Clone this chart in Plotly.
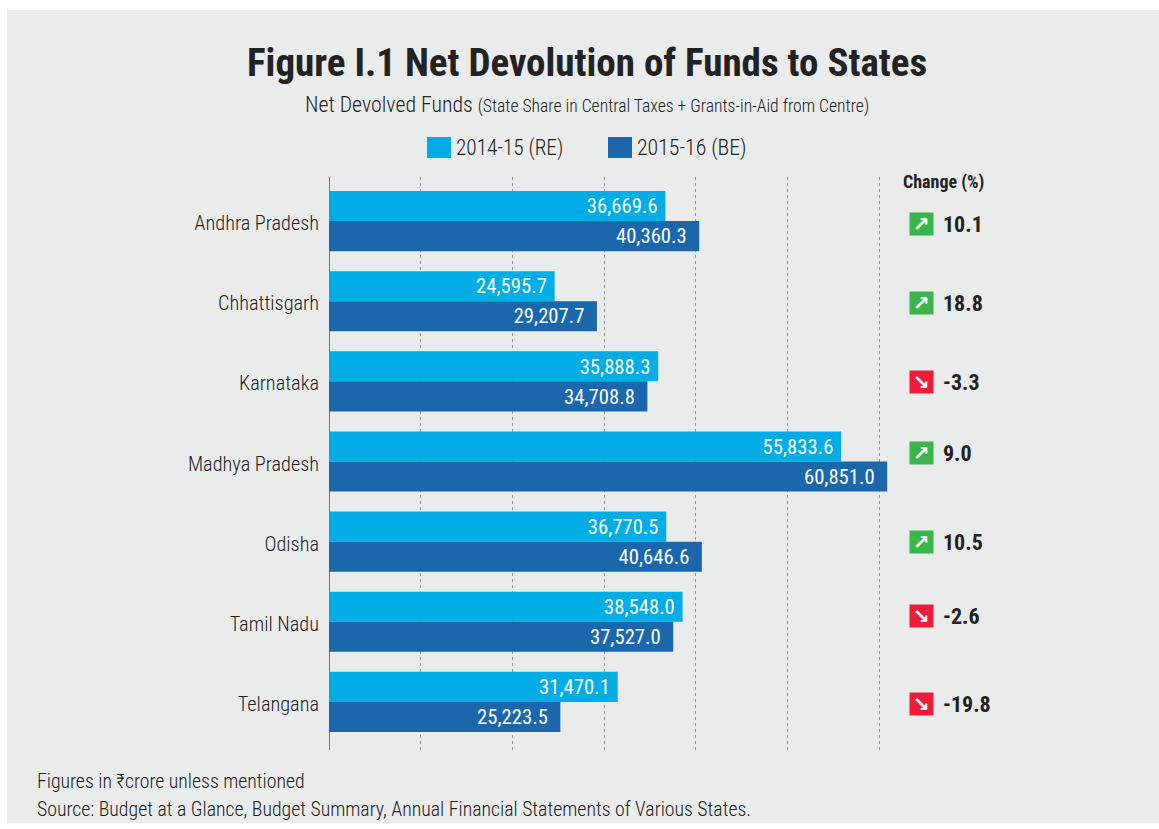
import plotly.graph_objects as go

states = ["Andhra Pradesh", "Chhattisgarh", "Karnataka", "Madhya Pradesh", "Odisha", "Tamil Nadu", "Telangana"]
re_2014 = [36669.6, 24595.7, 35888.3, 55833.6, 36770.5, 38548.0, 31470.1]
be_2015 = [40360.3, 29207.7, 34708.8, 60851.0, 40646.6, 37527.0, 25223.5]
change = [10.1, 18.8, -3.3, 9.0, 10.5, -2.6, -19.8]

W, H = 1159, 829
L, R, T, B = 329, 259, 177, 79
FONT = "Roboto Condensed, Liberation Sans Narrow, DejaVu Sans Condensed, Roboto, sans-serif"
INK = "#222222"


# paper refs follow the plot area, so convert from page pixels
def px(x):
    return (x - L) / (W - L - R)


def py(y):
    return 1 - (y - T) / (H - T - B)


def label(x, y, text, size, anchor="left", color=INK, weight=400):
    return dict(xref="paper", yref="paper", x=px(x), y=py(y), text=text, showarrow=False,
                xanchor=anchor, yanchor="middle", font=dict(family=FONT, size=size, color=color, weight=weight))


fig = go.Figure()
fig.add_trace(go.Bar(y=states, x=re_2014, orientation="h", name="2014-15 (RE)", marker_color="#00ADE6",
                     text=[f"{v:,.1f} " for v in re_2014]))
fig.add_trace(go.Bar(y=states, x=be_2015, orientation="h", name="2015-16 (BE)", marker_color="#1A67AB",
                     text=[f"{v:,.1f}  " for v in be_2015]))
fig.update_traces(textposition="inside", insidetextanchor="end", textangle=0, cliponaxis=False,
                  textfont=dict(family=FONT, size=21.5, color="white"), marker_line_width=0)

annotations = [
    label(587, 63, "<b>Figure I.1 Net Devolution of Funds to States</b>", 39, "center"),
    label(587, 104, 'Net Devolved Funds <span style="font-size:17.6px">(State Share in Central Taxes + Grants-in-Aid from Centre)</span>', 21.8, "center", weight=300),
    label(454, 148, "2014-15 (RE)", 21.3, weight=300),
    label(635, 148, "2015-16 (BE)", 21.8, weight=300),
    label(943, 182, "<b>Change (%)</b>", 18, "center"),
    label(35, 781, "Figures in ₹crore unless mentioned", 19.8, weight=300),
    label(35, 809, "Source: Budget at a Glance, Budget Summary, Annual Financial Statements of Various States.", 19.8, weight=300),
]

# change column: badge and number per state
badge_y = [224, 303, 382, 453, 542, 616, 704]
for yp, val in zip(badge_y, change):
    up = val >= 0
    annotations.append(dict(xref="paper", yref="paper", x=px(921.5), y=py(yp), text="<b>↗</b>" if up else "<b>↘</b>",
                            showarrow=False, width=21, height=20, bgcolor="#39B54A" if up else "#ED1C3B",
                            font=dict(family="DejaVu Sans", size=20, color="white"),
                            xanchor="center", yanchor="middle"))
    annotations.append(label(941, yp, f"<b>{val:.1f}</b>", 22))

shapes = [
    dict(type="rect", xref="paper", yref="paper", x0=px(7), x1=px(W), y0=py(10), y1=py(823),
         fillcolor="#EAEBEB", line_width=0, layer="below"),
    dict(type="rect", xref="paper", yref="paper", x0=px(427), x1=px(451), y0=py(137), y1=py(158),
         fillcolor="#00ADE6", line_width=0),
    dict(type="rect", xref="paper", yref="paper", x0=px(608), x1=px(632), y0=py(137), y1=py(158),
         fillcolor="#1A67AB", line_width=0),
]

fig.update_layout(
    width=W, height=H, barmode="group", bargap=0.25, bargroupgap=0, showlegend=False,
    paper_bgcolor="white", plot_bgcolor="rgba(0,0,0,0)",
    margin=dict(l=L, r=R, t=T, b=B),
    font=dict(family=FONT, color=INK),
    annotations=annotations, shapes=shapes,
    xaxis=dict(range=[0, 62248], dtick=10000, showticklabels=False, ticks="", showgrid=True,
               gridcolor="#999999", griddash="dot", gridwidth=1, zeroline=True, zerolinecolor="#777777",
               zerolinewidth=1, showline=False),
    yaxis=dict(range=[6.6, -0.55], showgrid=False, zeroline=False, ticks="", ticklabelstandoff=9,
               ticklabelshift=-2, tickfont=dict(family=FONT, size=20.3, color=INK, weight=300)),
)

fig.write_html("out.html", config={"displayModeBar": False}, post_script="document.body.style.margin='0';")
